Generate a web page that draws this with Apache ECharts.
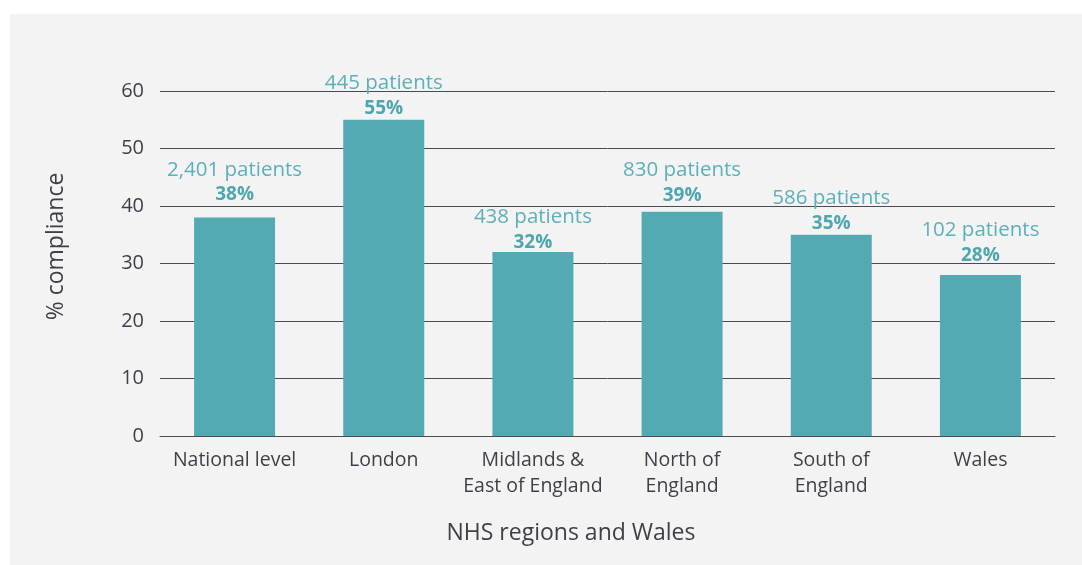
<!DOCTYPE html>
<html>
<head>
<meta charset="utf-8">
<script src="https://cdn.jsdelivr.net/npm/echarts@6/dist/echarts.min.js"></script>
<style>
  html, body { margin: 0; padding: 0; background: #ffffff; }
  #chart { width: 1082px; height: 565px; }
</style>
</head>
<body>
<div id="chart"></div>
<script>
// Compliance by NHS region (and Wales)
const regions = ['National level', 'London', 'Midlands &\nEast of England', 'North of\nEngland', 'South of\nEngland', 'Wales'];
const compliance = [38, 55, 32, 39, 35, 28];
const patients = ['2,401', '445', '438', '830', '586', '102'];
const yTicks = [0, 10, 20, 30, 40, 50, 60];

const FONT = '"Open Sans", "Liberation Sans", sans-serif';
const TEXT = '#3f3f4a';
const TEAL = '#53aab3';

// hand-placed vertical nudges for the value labels (px, downwards)
const labelNudge = [2, 13, 15, 8, 13, 5];

const chart = echarts.init(document.getElementById('chart'), null, { renderer: 'canvas' });

chart.setOption({
  backgroundColor: '#ffffff',
  animation: false,
  graphic: [{
    type: 'rect',
    z: -10,
    silent: true,
    shape: { x: 10, y: 14, width: 1072, height: 551 },
    style: { fill: '#f3f3f3' }
  }],
  grid: { left: 160, right: 27, top: 91, bottom: 129 },
  xAxis: {
    type: 'category',
    data: regions,
    name: 'NHS regions and Wales',
    nameLocation: 'middle',
    nameGap: 86,
    nameTextStyle: { fontFamily: FONT, fontSize: 23, color: TEXT, padding: [0, 73, 0, 0] },
    axisLine: { show: true, lineStyle: { color: '#4a4a52', width: 1 } },
    axisTick: { show: false },
    axisLabel: { fontFamily: FONT, fontSize: 19.5, color: TEXT, lineHeight: 26, margin: 11, interval: 0 }
  },
  yAxis: {
    type: 'value',
    min: yTicks[0],
    max: yTicks[yTicks.length - 1],
    interval: 10,
    name: '% compliance',
    nameLocation: 'middle',
    nameGap: 92,
    nameTextStyle: { fontFamily: FONT, fontSize: 23, color: TEXT, padding: [0, 0, 0, 34] },
    axisLine: { show: false },
    axisTick: { show: false },
    axisLabel: { fontFamily: FONT, fontSize: 20, color: TEXT, margin: 16 },
    splitLine: { lineStyle: { color: '#4a4a52', width: 1 } }
  },
  series: [{
    type: 'bar',
    data: compliance.map((v, i) => ({ value: v, label: { offset: [0, labelNudge[i]] } })),
    barWidth: 81,
    itemStyle: { color: TEAL },
    label: {
      show: true,
      position: 'top',
      distance: 12,
      formatter: p => '{a|' + patients[p.dataIndex] + ' patients}\n{b|' + p.value + '%}',
      rich: {
        a: { fontFamily: FONT, fontSize: 20.5, color: '#5cb0b9', lineHeight: 25 },
        b: { fontFamily: FONT, fontSize: 19, fontWeight: 'bold', color: '#4fa6af', lineHeight: 25 }
      }
    }
  }]
});
</script>
</body>
</html>
